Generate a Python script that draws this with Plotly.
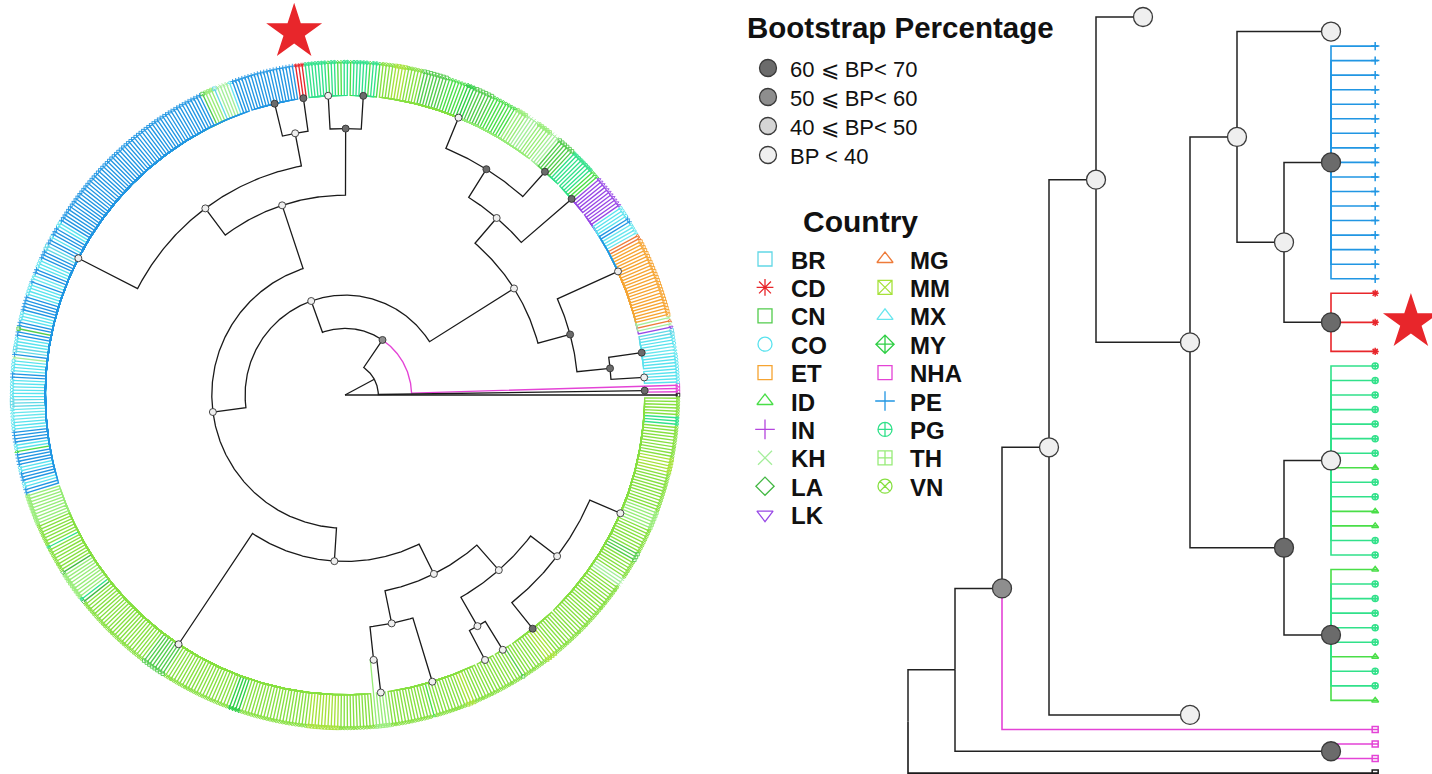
import math
import plotly.graph_objects as go

# ---------------- data ----------------
N_TIPS = 643
TIP_LEVEL = 10

COUNTRIES = ["BR", "CD", "CN", "CO", "ET", "ID", "IN", "KH", "LA", "LK",
             "MG", "MM", "MX", "MY", "NHA", "PE", "PG", "TH", "VN"]
COUNTRY_COLORS = ["#62d8e6", "#e8262b", "#52cc4c", "#58e2ee", "#f6a431", "#4ade48",
                  "#b545de", "#a4ee9a", "#44b844", "#9848e6", "#ee7b3a", "#a6e23a",
                  "#68e6ee", "#2fcf45", "#e443d6", "#2196e3", "#31e18a", "#97ec78", "#86e040"]
COUNTRY_SYMBOLS = ["square-open", "asterisk-open", "square-open", "circle-open", "square-open",
                   "triangle-up-open", "cross-thin-open", "x-thin-open", "diamond-open",
                   "triangle-down-open", "triangle-up-open", "square-x-open", "triangle-up-open",
                   "diamond-cross-open", "square-open", "cross-thin-open", "circle-cross-open",
                   "square-cross-open", "circle-x-open"]
OUTGROUP = "OUT"

# tip countries in tree order (runs)
RUN_COUNTRY = [
    "OUT", "NHA", "CO",
    "CO", "MX", "CO", "BR",
    "LK", "KH", "MG", "KH",
    "ET", "MG", "MX", "PE", "CO", "LK",
    "ID", "PG", "CN", "KH",
    "TH", "KH", "TH",
    "ID", "CN", "MY", "ID", "CN",
    "VN", "MM", "VN",
    "ID", "PG", "ID", "PG", "ID",
    "PG", "ID", "PG", "ID", "PG",
    "CD", "PE",
    "PE", "MX", "KH", "BR", "TH", "CN", "PE",
    "CO", "PE", "CO", "PE", "BR", "PE", "CO", "PE", "MX", "PE", "CO", "PE", "CO", "PE",
    "CN", "PE", "CO", "BR", "PE", "KH", "CO", "PE", "CO", "BR", "MX", "CO", "PE", "CO",
    "ID", "PE", "CO", "PE", "CO", "PE",
    "TH", "VN", "PG", "VN", "LA", "TH", "PG", "LA", "VN", "CN", "VN", "MY", "VN", "MM", "VN",
    "TH", "TH",
    "VN", "ID", "VN", "MM", "VN",
    "VN", "VN", "CN", "VN",
    "VN", "MM", "VN",
    "VN", "KH", "VN", "CN", "VN", "TH", "VN", "MM", "VN", "PG", "VN",
]
RUN_LENGTH = [
    1, 3, 5,
    4, 3, 3, 2,
    1, 1, 1, 1,
    25, 2, 4, 2, 4, 11,
    3, 8, 6, 3,
    5, 4, 4,
    8, 6, 3, 6, 8,
    5, 4, 4,
    1, 2, 1, 5, 1,
    2, 2, 2, 1, 7,
    3, 17,
    3, 1, 4, 1, 3, 1, 59,
    2, 3, 1, 2, 2, 3, 3, 2, 2, 1, 4, 5, 3, 2,
    1, 2, 3, 2, 1, 1, 4, 2, 6, 3, 4, 3, 4, 2,
    1, 4, 2, 3, 2, 2,
    10, 7, 1, 8, 1, 9, 1, 1, 25, 8, 22, 4, 21, 10, 11,
    1, 4,
    13, 1, 10, 3, 5,
    7, 4, 1, 2,
    6, 4, 8,
    20, 3, 6, 3, 8, 6, 12, 5, 10, 3, 6,
]

# tree topology (cladogram: level = depth); tuple = range of tips under a multifurcating node
NODE_ID = ["root", "N1", "MAG", "N2", "N3", "N6a", "N7a", "N8a", "A", "B", "C", "N7b", "D",
           "N8b", "E", "F", "N4", "N6b", "N8c", "G", "H", "N7c", "N8d", "CD", "PE", "BLUE",
           "N5", "I", "N6c", "N7d", "N8e", "J", "K", "N7e", "N8f", "L", "M", "N8g", "O", "P"]
NODE_LEVEL = [0, 1, 9, 2, 3, 6, 7, 8, 9, 9, 9, 7, 9,
              8, 9, 9, 4, 6, 8, 9, 9, 7, 8, 9, 9, 9,
              5, 9, 6, 7, 8, 9, 9, 7, 8, 9, 9, 8, 9, 9]
NODE_CHILDREN = [[0, "N1"], ["MAG", "N2"], (1, 2), [3, "N3"], ["N6a", "N4"], ["N7a", "N7b"],
                 ["N8a", "C"], ["A", "B"], (4, 8), (9, 20), (21, 66), ["D", "N8b"], (67, 79),
                 ["E", "F"], (80, 92), (93, 149), ["N6b", "N5"], ["N8c", "N7c"], ["G", "H"],
                 (150, 159), (160, 173), ["N8d", "BLUE"], ["CD", "PE"], (174, 176), (177, 193),
                 (194, 352), ["I", "N6c"], (353, 491), ["N7d", "N7e"], ["N8e", "K"], [492, "J"],
                 (493, 496), (497, 528), ["N8f", "N8g"], ["L", "M"], (529, 535), (536, 542),
                 ["O", "P"], (543, 560), (561, 642)]
# bootstrap class index into BP_LABELS (None = not shown)
NODE_BP = [None, None, 0, 1, 3, 3, 0, 0, 3, 0, 3, 3, 0,
           0, 0, 3, 3, 3, 0, 0, 3, 3, 3, 0, 0, 3,
           3, 3, 3, 3, 3, 3, 3, 3, 3, 3, 3, 3, 0, 3]

BP_LABELS = ["60 \u2a7d BP< 70", "50 \u2a7d BP< 60", "40 \u2a7d BP< 50", "BP < 40"]
BP_FILLS = ["#6b6b6b", "#8e8e8e", "#d5d5d5", "#efefef"]

COLLAPSED_RIGHT = ["N6a", "N5", "BLUE"]
GAP_BEFORE_RIGHT = [175, 174]
STAR_CLADE = "CD"

# ---------------- layout constants ----------------
W, H = 1432, 774
CX, CY, CS = 345, 395, 33.3          # circle centre (px) and px per level
RX0, RXS = 908, 47.0                 # right tree: px of level 0, px per level
RY0, RYS = 17, 14.54                 # right tree: px of slot 0, px per slot
FONT = "Liberation Sans, Arial, Helvetica, sans-serif"

# ---------------- build ----------------
tip_country = []
for c, n in zip(RUN_COUNTRY, RUN_LENGTH):
    tip_country += [c] * n
assert len(tip_country) == N_TIPS, len(tip_country)

COLOR = dict(zip(COUNTRIES, COUNTRY_COLORS))
COLOR[OUTGROUP] = "#1a1a1a"
SYMBOL = dict(zip(COUNTRIES, COUNTRY_SYMBOLS))
SYMBOL[OUTGROUP] = "square-open"

kids = {}
for nid, ch in zip(NODE_ID, NODE_CHILDREN):
    kids[nid] = list(range(ch[0], ch[1] + 1)) if isinstance(ch, tuple) else list(ch)
level = dict(zip(NODE_ID, NODE_LEVEL))
bp = dict(zip(NODE_ID, NODE_BP))


def is_tip(c):
    return isinstance(c, int)


theta = {}


def th(c):
    if is_tip(c):
        return 360.0 * c / N_TIPS
    if c not in theta:
        vals = [th(k) for k in kids[c]]
        theta[c] = sum(vals) / len(vals)
    return theta[c]


def lev(c):
    return TIP_LEVEL if is_tip(c) else level[c]


def polar(r, t):
    a = math.radians(t)
    return r * math.cos(a), r * math.sin(a)


def arc(r, a, b):
    n = max(2, int(abs(b - a) / 0.4) + 2)
    return [polar(r, a + (b - a) * i / (n - 1)) for i in range(n)]


fig = go.Figure()


def add_poly(bucket, key, pts):
    xs, ys = bucket.setdefault(key, ([], []))
    for x, y in pts:
        xs.append(x)
        ys.append(y)
    xs.append(None)
    ys.append(None)


# ----- circular tree -----
circ = {}
for nid in NODE_ID:
    lp, tp = level[nid], th(nid)
    for k in kids[nid]:
        tk = th(k)
        key = tip_country[k] if is_tip(k) else "BLACK"
        add_poly(circ, key, arc(lp, tp, tk) + [polar(lev(k), tk)])

counts = {c: tip_country.count(c) for c in set(tip_country)}
order = sorted([k for k in circ if k != "BLACK"], key=lambda k: counts.get(k, 0))
for key in order:
    xs, ys = circ[key]
    fig.add_trace(go.Scatter(x=xs, y=ys, mode="lines", line=dict(color=COLOR[key], width=1.35),
                             xaxis="x", yaxis="y", hoverinfo="skip"))
xs, ys = circ["BLACK"]
fig.add_trace(go.Scatter(x=xs, y=ys, mode="lines", line=dict(color="#1a1a1a", width=1.3),
                         xaxis="x", yaxis="y", hoverinfo="skip"))

# tip markers on ring
for c in set(tip_country):
    idx = [i for i in range(N_TIPS) if tip_country[i] == c]
    pts = [polar(TIP_LEVEL, th(i)) for i in idx]
    fig.add_trace(go.Scatter(x=[p[0] for p in pts], y=[p[1] for p in pts], mode="markers",
                             marker=dict(symbol=SYMBOL[c], size=3.5, color=COLOR[c], line=dict(width=0.9, color=COLOR[c])),
                             xaxis="x", yaxis="y", hoverinfo="skip"))

# bootstrap node circles
for b in range(len(BP_LABELS)):
    nodes = [n for n in NODE_ID if bp[n] == b]
    if not nodes:
        continue
    pts = [polar(level[n], th(n)) for n in nodes]
    fig.add_trace(go.Scatter(x=[p[0] for p in pts], y=[p[1] for p in pts], mode="markers",
                             marker=dict(symbol="circle", size=7, color=BP_FILLS[b],
                                         line=dict(width=0.9, color="#333333")),
                             xaxis="x", yaxis="y", hoverinfo="skip"))

# star over the highlighted clade
sx, sy = polar(11.0, th(STAR_CLADE))
fig.add_trace(go.Scatter(x=[sx], y=[sy], mode="markers",
                         marker=dict(symbol="star", size=42, color="#e8262b", line=dict(width=0)),
                         xaxis="x", yaxis="y", hoverinfo="skip"))

# ----- rectangular (collapsed) tree -----
ry = {}
counter = [0]


def place(c):
    if is_tip(c):
        if c in GAP_BEFORE_RIGHT:
            counter[0] += 1
        ry[c] = counter[0]
        counter[0] += 1
    elif c in COLLAPSED_RIGHT:
        ry[c] = counter[0]
        counter[0] += 1
    else:
        for k in reversed(kids[c]):
            place(k)
        ry[c] = sum(ry[k] for k in kids[c]) / len(kids[c])


place("root")

rect = {}
right_tips = []


def draw_right(c):
    if is_tip(c) or c in COLLAPSED_RIGHT:
        return
    lp, yp = level[c], ry[c]
    for k in kids[c]:
        key = tip_country[k] if is_tip(k) else "BLACK"
        add_poly(rect, key, [(lp, yp), (lp, ry[k]), (lev(k), ry[k])])
        if is_tip(k):
            right_tips.append(k)
        draw_right(k)


draw_right("root")
for key in rect:
    if key == "BLACK":
        continue
    xs, ys = rect[key]
    fig.add_trace(go.Scatter(x=xs, y=ys, mode="lines", line=dict(color=COLOR[key], width=1.6),
                             xaxis="x2", yaxis="y2", hoverinfo="skip"))
xs, ys = rect["BLACK"]
fig.add_trace(go.Scatter(x=xs, y=ys, mode="lines", line=dict(color="#222222", width=1.5),
                         xaxis="x2", yaxis="y2", hoverinfo="skip"))
for c in set(tip_country[k] for k in right_tips):
    idx = [k for k in right_tips if tip_country[k] == c]
    fig.add_trace(go.Scatter(x=[TIP_LEVEL - 0.06] * len(idx), y=[ry[k] for k in idx], mode="markers",
                             marker=dict(symbol=SYMBOL[c], size=6, color=COLOR[c], line=dict(width=1.5, color=COLOR[c])),
                             xaxis="x2", yaxis="y2", hoverinfo="skip"))
for b in range(len(BP_LABELS)):
    nodes = [n for n in NODE_ID if n in ry and bp[n] == b]
    if not nodes:
        continue
    fig.add_trace(go.Scatter(x=[level[n] for n in nodes], y=[ry[n] for n in nodes], mode="markers",
                             marker=dict(symbol="circle", size=19, color=BP_FILLS[b],
                                         line=dict(width=1.3, color="#3a3a3a")),
                             xaxis="x2", yaxis="y2", hoverinfo="skip"))
fig.add_trace(go.Scatter(x=[10.7], y=[ry[STAR_CLADE]], mode="markers",
                         marker=dict(symbol="star", size=42, color="#e8262b", line=dict(width=0)),
                         xaxis="x2", yaxis="y2", hoverinfo="skip"))

# ----- legend (drawn on a pixel axis) -----
ann = []
ann.append(dict(x=745, y=27, xref="x3", yref="y3", text="<b>Bootstrap Percentage</b>", showarrow=False,
                xanchor="left", yanchor="middle", font=dict(family=FONT, size=29.5, color="#111")))
bp_y = [68 + 29 * i for i in range(len(BP_LABELS))]
fig.add_trace(go.Scatter(x=[768] * len(BP_LABELS), y=bp_y, mode="markers",
                         marker=dict(symbol="circle", size=17, color=BP_FILLS, line=dict(width=1.3, color="#3a3a3a")),
                         xaxis="x3", yaxis="y3", hoverinfo="skip"))
for lab, y in zip(BP_LABELS, bp_y):
    ann.append(dict(x=788, y=y + 1, xref="x3", yref="y3", text=lab, showarrow=False, xanchor="left",
                    yanchor="middle", font=dict(family=FONT, size=22, color="#111")))
ann.append(dict(x=860, y=221, xref="x3", yref="y3", text="<b>Country</b>", showarrow=False,
                xanchor="center", yanchor="middle", font=dict(family=FONT, size=30, color="#111")))
for i, c in enumerate(COUNTRIES):
    col, row = divmod(i, 10)
    y = 259 + 28.4 * row
    fig.add_trace(go.Scatter(x=[765 + 120 * col], y=[y], mode="markers",
                             marker=dict(symbol=SYMBOL[c], size=14, color=COLOR[c], line=dict(width=1.3, color=COLOR[c])),
                             xaxis="x3", yaxis="y3", hoverinfo="skip"))
    ann.append(dict(x=789 + 119 * col, y=y + 1, xref="x3", yref="y3", text="<b>%s</b>" % c, showarrow=False,
                    xanchor="left", yanchor="middle", font=dict(family=FONT, size=24, color="#111")))

fig.update_layout(
    width=W, height=H, margin=dict(l=0, r=0, t=0, b=0), autosize=False,
    paper_bgcolor="white", plot_bgcolor="rgba(0,0,0,0)", showlegend=False,
    annotations=ann,
    xaxis=dict(domain=[0, 700 / W], range=[(0 - CX) / CS, (700 - CX) / CS], visible=False, anchor="y"),
    yaxis=dict(domain=[0, 1], range=[(CY - H) / CS, CY / CS], visible=False, anchor="x"),
    xaxis2=dict(domain=[720 / W, 1], range=[(720 - RX0) / RXS, (W - RX0) / RXS], visible=False, anchor="y2"),
    yaxis2=dict(domain=[0, 1], range=[(H - RY0) / RYS, (0 - RY0) / RYS], visible=False, anchor="x2"),
    xaxis3=dict(domain=[0, 1], range=[0, W], visible=False, anchor="y3"),
    yaxis3=dict(domain=[0, 1], range=[H, 0], visible=False, anchor="x3"),
)

fig.write_html("out.html", config={"displayModeBar": False},
               post_script="document.body.style.margin='0px';document.body.style.overflow='hidden';")
